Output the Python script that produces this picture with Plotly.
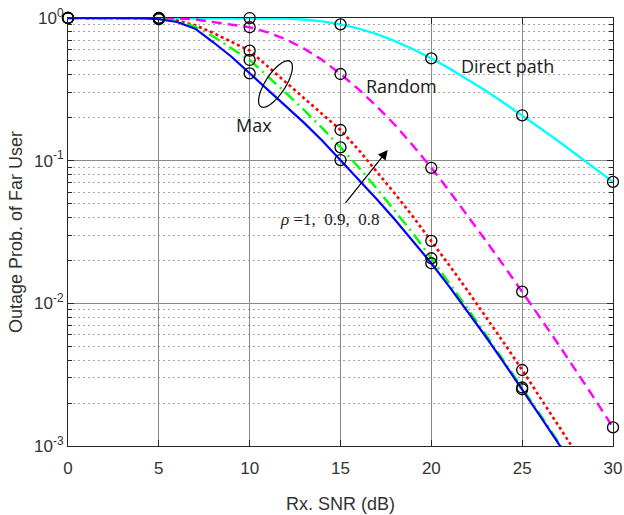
import numpy as np
import plotly.graph_objects as go

# ---------------- data ----------------
snr_db = list(range(0, 31))

direct_path = [1.0, 1.0, 1.0, 1.0, 1.0, 1.0, 1.0, 1.0, 1.0, 0.9999, 0.9994,
               0.997, 0.990, 0.975, 0.947, 0.903, 0.843, 0.770, 0.688, 0.604,
               0.521, 0.443, 0.371, 0.309, 0.254, 0.208, 0.169, 0.137, 0.110,
               0.0885, 0.071]

random_sel = [1.0, 1.0, 1.0, 1.0, 1.0, 1.0, 0.995, 0.977, 0.933, 0.897, 0.861,
              0.794, 0.708, 0.610, 0.507, 0.405, 0.316, 0.240, 0.178, 0.127,
              0.0891, 0.0610, 0.0412, 0.0275, 0.0183, 0.01208, 0.00791,
              0.00515, 0.00333, 0.00213, 0.00135]

max_rho08 = [1.0, 1.0, 1.0, 1.0, 1.0, 0.993, 0.959, 0.891, 0.785, 0.684, 0.590,
             0.457, 0.353, 0.274, 0.212, 0.164, 0.119, 0.0841, 0.0586, 0.0403,
             0.0274, 0.0184, 0.01225, 0.00807, 0.00527, 0.00341, 0.00219,
             0.00139, 0.000883]

max_rho09 = [1.0, 1.0, 1.0, 1.0, 1.0, 0.989, 0.951, 0.871, 0.741, 0.617, 0.508,
             0.389, 0.299, 0.226, 0.169, 0.124, 0.0899, 0.0637, 0.0446, 0.0308,
             0.0207, 0.01384, 0.00918, 0.00604, 0.00395, 0.00257, 0.00166,
             0.00106, 0.00068]

max_rho10 = [1.0, 1.0, 1.0, 1.0, 1.0, 0.98, 0.937, 0.841, 0.676, 0.535, 0.409,
             0.316, 0.243, 0.184, 0.138, 0.101, 0.0741, 0.0537, 0.0385, 0.0272,
             0.0191, 0.01306, 0.00879, 0.00583, 0.00383, 0.0025, 0.00161,
             0.00104, 0.00066]

x_ticks = [0, 5, 10, 15, 20, 25, 30]
y_ticks = [1e-3, 1e-2, 1e-1, 1]
y_ticktext = ["10<sup>-3</sup>", "10<sup>-2</sup>", "10<sup>-1</sup>", "10<sup>0</sup>"]
y_minor = [m * 10.0 ** e for e in (-3, -2, -1) for m in range(2, 10)]

# ---------------- figure ----------------
W, H = 624, 515
ML, MR, MT, MB = 68, 11, 18, 69

fig = go.Figure()

series = [
    (direct_path, "#00FFFF", "solid", 2.4),
    (random_sel, "#FF00FF", "10px,6px", 2.4),
    (max_rho08, "#FF0000", "3px,3px", 2.6),
    (max_rho09, "#00FF00", "12px,5px,2px,5px", 2.4),
    (max_rho10, "#0000FF", "solid", 2.2),
]

for vals, col, dash, w in series:
    xs = snr_db[:len(vals)]
    fig.add_trace(go.Scatter(x=xs, y=vals, mode="lines",
                             line=dict(color=col, dash=dash, width=w),
                             showlegend=False, hoverinfo="skip"))

for vals, col, dash, w in series:
    xs = snr_db[:len(vals)]
    mx = [x for x in xs if x % 5 == 0]
    my = [vals[x] for x in mx]
    fig.add_trace(go.Scatter(x=mx, y=my, mode="markers",
                             marker=dict(symbol="circle-open", size=11,
                                         color="black", line=dict(width=1.3, color="black")),
                             cliponaxis=False, showlegend=False, hoverinfo="skip"))

axis_common = dict(showline=True, linecolor="#262626", linewidth=1.2, mirror="ticks",
                   ticks="inside", tickcolor="#262626", ticklen=6, automargin=False,
                   tickfont=dict(family="Liberation Sans, Arial", size=17, color="#333333"),
                   showgrid=True, gridcolor="#8a8a8a", gridwidth=1.4, zeroline=False)

fig.update_xaxes(range=[0, 30], tickvals=x_ticks, ticklabelstandoff=6,
                 title=dict(text="Rx. SNR (dB)",
                            font=dict(family="Liberation Sans, Arial", size=18, color="#333333"),
                            standoff=20),
                 **axis_common)
fig.update_yaxes(type="log", range=[-3, 0], tickvals=y_ticks, ticktext=y_ticktext,
                 minor=dict(tickvals=y_minor, showgrid=True, griddash="1.5px,3.5px",
                            gridcolor="#a6a6a6", gridwidth=1, ticks="inside",
                            ticklen=4, tickcolor="#262626"),
                 title=dict(text="Outage Prob. of Far User",
                            font=dict(family="Liberation Sans, Arial", size=18, color="#333333"),
                            standoff=6),
                 **axis_common)

txt_font = dict(family="Open Sans, Noto Sans", size=18, color="#1a1a1a")
fig.add_annotation(x=24.2, y=np.log10(0.461), text="Direct path", showarrow=False, font=txt_font)
fig.add_annotation(x=18.33, y=np.log10(0.334), text="Random", showarrow=False, font=txt_font)
fig.add_annotation(x=10.24, y=np.log10(0.178), text="Max", showarrow=False, font=txt_font)
fig.add_annotation(x=14.4, y=np.log10(0.0384),
                   text="<i>ρ</i> =1,  0.9,  0.8", showarrow=False,
                   font=dict(family="Liberation Serif, Times New Roman", size=17, color="#1a1a1a"))
# arrow
fig.add_annotation(x=17.6, y=np.log10(0.119), ax=15.21, ay=np.log10(0.0494),
                   xref="x", yref="y", axref="x", ayref="y", text="",
                   showarrow=True, arrowhead=2, arrowsize=1.6, arrowwidth=1.2,
                   arrowcolor="black")

# ellipse around the "Max" curves (decoration in paper coordinates)
pw, ph = W - ML - MR, H - MT - MB
cx, cy = 275.5, 84.0
a, b, th = 27.0, 10.0, np.deg2rad(57)
t = np.linspace(0, 2 * np.pi, 60)
px = cx + a * np.cos(t) * np.cos(th) + b * np.sin(t) * np.sin(th)
py = cy - a * np.cos(t) * np.sin(th) + b * np.sin(t) * np.cos(th)
ux = (px - ML) / pw
uy = 1 - (py - MT) / ph
path = "M " + " L ".join(f"{x:.5f},{y:.5f}" for x, y in zip(ux, uy)) + " Z"
fig.add_shape(type="path", path=path, xref="paper", yref="paper",
              line=dict(color="black", width=1.2))

fig.update_layout(width=W, height=H, margin=dict(l=ML, r=MR, t=MT, b=MB),
                  plot_bgcolor="white", paper_bgcolor="white", showlegend=False)

fig.write_html("out.html")
